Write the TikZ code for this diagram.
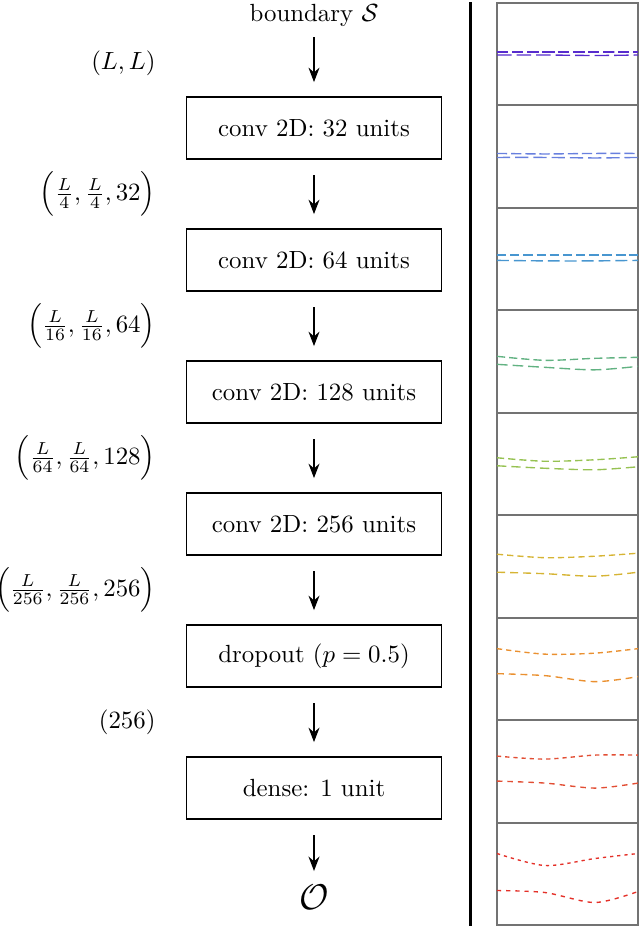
\documentclass[tikz,border=0pt]{standalone}
\usepackage{amssymb}
\usepackage{amsmath}
\usetikzlibrary{arrows.meta}

\definecolor{run0}{RGB}{88,44,205}
\definecolor{run1}{RGB}{104,128,222}
\definecolor{run2}{RGB}{72,150,208}
\definecolor{run3}{RGB}{98,178,130}
\definecolor{run4}{RGB}{150,194,82}
\definecolor{run5}{RGB}{214,180,52}
\definecolor{run6}{RGB}{234,144,48}
\definecolor{run7}{RGB}{226,78,52}
\definecolor{run8}{RGB}{228,48,40}

\begin{document}
\begin{tikzpicture}[x=0.01415cm,y=-0.01415cm,
    >={Stealth[length=5.8pt,width=4.4pt]},
    layer/.style={draw,line width=0.6pt,minimum width=3.61cm,minimum height=0.877cm},
    dim/.style={anchor=east,inner sep=0pt},
    flow/.style={->,line width=0.8pt,shorten <=0.22cm,shorten >=0.2cm},
    panel/.style={draw=black!55,line width=0.8pt},
    trace/.style={line width=0.55pt}]
    \useasboundingbox(0,0)rectangle(640,928);
    % network
    \node (bnd) at (314,15) {boundary $\mathcal{S}$};
    \node[layer] (c32) at (314,128) {conv 2D: 32 units};
    \node[layer] (c64) at (314,260) {conv 2D: 64 units};
    \node[layer] (c128) at (314,392) {conv 2D: 128 units};
    \node[layer] (c256) at (314,524) {conv 2D: 256 units};
    \node[layer] (drop) at (314,656) {dropout ($p=0.5$)};
    \node[layer] (dense) at (314,788) {dense: 1 unit};
    \node (out) at (314,897) {\Large$\mathcal{O}$};
    \draw[flow,shorten <=1pt] (bnd)--(c32);
    \draw[flow] (c32)--(c64);
    \draw[flow] (c64)--(c128);
    \draw[flow] (c128)--(c256);
    \draw[flow] (c256)--(drop);
    \draw[flow] (drop)--(dense);
    \draw[flow,shorten >=2pt] (dense)--(out);
    % shapes
    \node[dim] (s0) at (156,63) {$(L,L)$};
    \node[dim] (s1) at (156,194) {$\Bigl(\frac{L}{4},\frac{L}{4},32\Bigr)$};
    \node[dim] (s2) at (156,326) {$\Bigl(\frac{L}{16},\frac{L}{16},64\Bigr)$};
    \node[dim] (s3) at (156,458) {$\Bigl(\frac{L}{64},\frac{L}{64},128\Bigr)$};
    \node[dim] (s4) at (156,590) {$\Bigl(\frac{L}{256},\frac{L}{256},256\Bigr)$};
    \node[dim] (s5) at (156,722) {$(256)$};
    \draw[line width=1.3pt](470.5,2)--(470.5,926);
    % boundaries
    \foreach \k/\ua/\ub/\uc/\ud/\la/\lb/\lc/\ld in {
        0/49/49/49/49/52/52/52.5/52,
        1/48/48.5/48/48/52/52/52.5/52,
        2/47/47/47/47/52.5/53/53/52.5,
        3/46/50/48/47/54/57/59.5/56,
        4/45/48.5/47/44/53/55.5/57/54,
        5/39/42.5/41/38/57/58.5/61/57,
        6/31/36.5/35.5/31/56/58/64/59,
        7/36/39/35/35/61/63/68/63,
        8/31/43/36/31/68/70/80/69}{
      \pgfmathsetmacro\on{4.5-0.4*\k}
      \begin{scope}[shift={(497,{3+102.44*\k})}]
        \draw[panel](0,0)rectangle(141,102.44);
        \draw[run\k,trace,dash pattern=on \on pt off 1.6pt]
          plot[smooth] coordinates{(0,\ua)(48,\ub)(98,\uc)(141,\ud)};
        \draw[run\k,trace,dash pattern=on {\on*1.3}pt off 2pt]
          plot[smooth] coordinates{(0,\la)(48,\lb)(98,\lc)(141,\ld)};
      \end{scope}}
  \end{tikzpicture}
\end{document}
